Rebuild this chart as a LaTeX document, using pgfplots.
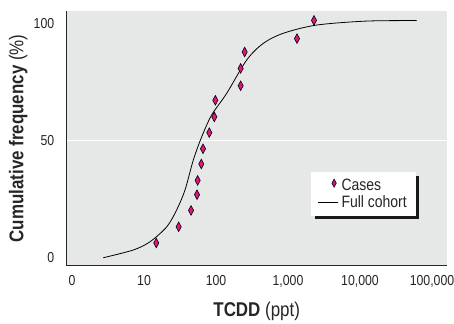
\documentclass[border=0pt]{standalone}
\usepackage{fontspec}
\setmainfont{Liberation Sans}[FakeStretch=0.85]
\usepackage{pgfplots}
\pgfplotsset{compat=1.18}
\definecolor{bggray}{HTML}{E6E7E7}
\definecolor{casepink}{HTML}{E0157F}
\pgfplotsset{
  caseleg/.style={legend image code/.code={\draw[##1, mark size=4bp] plot coordinates {(16bp,2bp)};}},
  lineleg/.style={legend image code/.code={\draw[##1] (0bp,0bp) -- (20bp,0bp);}},
}
\begin{document}
\begin{tikzpicture}[x=1bp,y=1bp]
\begin{axis}[
  name=ax,
  scale only axis,
  width=380bp, height=254.7bp,
  xmode=log,
  xmin=0.844, xmax=160000,
  ymin=-3.4, ymax=105.3,
  axis lines*=left,
  axis line style={black!85, line width=0.9pt},
  axis background/.style={fill=bggray},
  xtick={1,10,100,1000,10000,100000},
  xticklabels={0,10,100,{1,000},{10,000},{100,000}},
  xminorticks=false,
  ytick={0,50,100},
  major tick length=0pt,
  extra y ticks={50},
  extra y tick labels={},
  extra y tick style={grid=major, major grid style={white, line width=1pt}},
  tick label style={font=\fontsize{14.5}{16}\selectfont, text=black!85},
  /pgf/number format/assume math mode=true,
  xticklabel style={anchor=north, yshift=-6bp},
  yticklabel style={anchor=east, xshift=-9bp},
  xlabel={\textbf{TCDD} (ppt)},
  ylabel={\textbf{Cumulative frequency} (\%)},
  label style={font=\fontsize{20}{22}\selectfont, text=black!85},
  xlabel style={at={(axis description cs:0.5,0)}, anchor=center, yshift=-46bp},
  ylabel style={at={(axis description cs:0,0.5)}, anchor=center, yshift=48.5bp},
  legend style={at={(0.919,0.368)}, anchor=north east, draw=none, fill=white,
    name=leg,
    font=\fontsize{16.5}{18}\selectfont, text=black!85,
    inner xsep=7bp, inner ysep=4.5bp, row sep=0bp, column sep=1bp},
  legend cell align=left,
  clip=false,
]
\addplot[only marks, mark=diamond*, mark size=4.8bp,
  mark options={fill=casepink, draw=black, line width=0.6pt, xscale=0.72},
  caseleg]
  coordinates {
  (14.8,6.3) (30.3,13.2) (45,20.2) (54.5,26.9) (55.6,33.0) (62.5,40.0)
  (66,46.5) (80.7,53.4) (94.8,60.1) (97.9,67.2) (220,73.4) (220,80.8)
  (250,87.8) (1334,93.5) (2296,101.3)
  };
\addlegendentry{Cases}
\addplot[black, line width=0.8pt, smooth, tension=0.5, lineleg] coordinates {
  (2.72,0) (7.1,3.3) (12.1,6.8) (20.7,13.2) (28.4,20.4) (37.1,28.9)
  (48.4,41.7) (63.3,51.6) (87,60.9) (141,70.2) (267,84.4) (454,91.5)
  (861,95.8) (2500,99.3) (12400,101.0) (61200,101.2)
  };
\addlegendentry{Full cohort}
\end{axis}
\fill[black!90] ([yshift=-4bp]leg.north east) rectangle ([xshift=3.5bp,yshift=-3.5bp]leg.south east);
\fill[black!90] ([xshift=4bp]leg.south west) rectangle ([xshift=3.5bp,yshift=-3.5bp]leg.south east);
\pgfresetboundingbox
\path[use as bounding box] ([xshift=-66.7bp,yshift=-58.3bp]ax.south west) rectangle ([xshift=7.3bp,yshift=11bp]ax.north east);
\end{tikzpicture}
\end{document}
